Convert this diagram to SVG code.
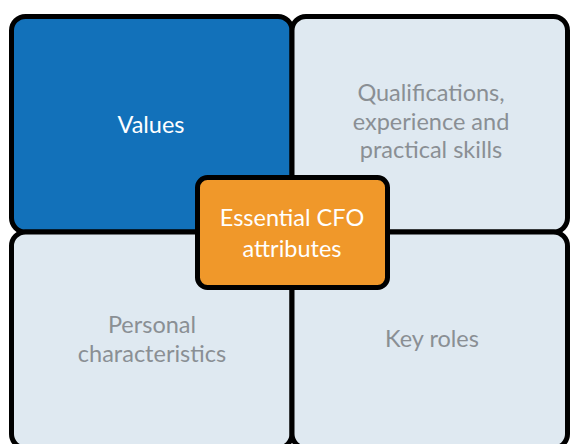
<svg xmlns="http://www.w3.org/2000/svg" width="571" height="444" viewBox="0 0 571 444">
<style>
.box{stroke:#000;stroke-width:5}
.light{fill:#DFE9F1}
.t{font-family:Lato,"Open Sans","Liberation Sans",sans-serif;font-size:23.5px;text-anchor:middle}
.g{fill:#8a8f94}
.w{fill:#ffffff}
</style>
<rect width="571" height="444" fill="#ffffff"/>
<g id="values">
<rect class="box" x="11.5" y="16.5" width="280.5" height="215.5" rx="14" fill="#1271BA"/>
<text class="t w" x="151" y="133">Values</text>
</g>
<g id="qualifications">
<rect class="box light" x="292" y="16.5" width="275.5" height="215.5" rx="14"/>
<text class="t g" x="431" y="101">Qualifications,</text>
<text class="t g" x="431" y="130">experience and</text>
<text class="t g" x="431" y="158">practical skills</text>
</g>
<g id="personal">
<rect class="box light" x="11.5" y="232" width="280.5" height="216" rx="14"/>
<text class="t g" x="152" y="333">Personal</text>
<text class="t g" x="152" y="362">characteristics</text>
</g>
<g id="keyroles">
<rect class="box light" x="292" y="232" width="275.5" height="216" rx="14"/>
<text class="t g" x="432" y="347">Key roles</text>
</g>
<g id="connectors"></g>
<g id="center">
<rect class="box" x="197.5" y="177.5" width="190" height="110" rx="10" fill="#F0982A"/>
<text class="t w" x="292" y="226">Essential CFO</text>
<text class="t w" x="292" y="257">attributes</text>
</g>
</svg>
